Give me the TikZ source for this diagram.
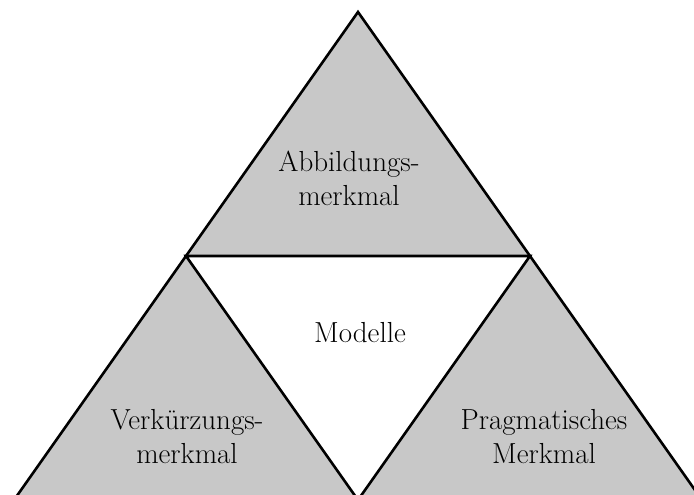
\documentclass[tikz,border=0pt]{standalone}
\definecolor{tri}{RGB}{200,200,200}
\begin{document}
\begin{tikzpicture}[x=1pt,y=-1pt,
  edge/.style={line width=2.6pt,line join=miter,line cap=butt},
  label/.style={font=\fontsize{29}{34}\selectfont,align=center,inner sep=0pt,anchor=base}]
\useasboundingbox (0,0) rectangle (694,495);
\coordinate (T) at (358,12);
\coordinate (L) at (14,500);
\coordinate (R) at (702,500);
\coordinate (ML) at (186,256);
\coordinate (MR) at (530,256);
\coordinate (MB) at (358,500);
\begin{scope}
\clip (0,0) rectangle (694,495);
\fill[tri] (T) -- (L) -- (R) -- cycle;
\fill[white] (ML) -- (MR) -- (MB) -- cycle;
\draw[edge] (T) -- (L) -- (R) -- cycle;
\draw[edge] (ML) -- (MR) -- (MB) -- cycle;
\end{scope}
\node[label] (abb) at (349,205) {Abbildungs-\\merkmal};
\node[label] (mod) at (360,342) {Modelle};
\node[label] (ver) at (187,463) {Verkürzungs-\\merkmal};
\node[label] (pra) at (544,463) {Pragmatisches\\Merkmal};
\end{tikzpicture}
\end{document}
